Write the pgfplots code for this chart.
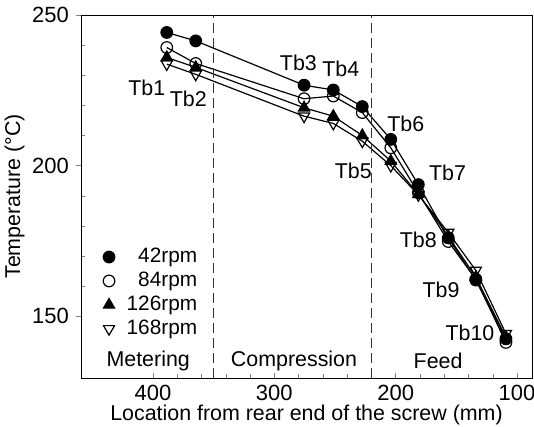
\documentclass[border=0pt]{standalone}
\usepackage{fontspec}
\setmainfont{Liberation Sans}
\usepackage{pgfplots}
\pgfplotsset{compat=1.18}
\begin{document}
\begin{tikzpicture}
\begin{axis}[
  name=ax,
  scale only axis, width=225.5pt, height=181.5pt,
  x dir=reverse, xmin=87.6, xmax=459.4, ymin=129.5, ymax=250,
  xtick={100,200,300,400}, ytick={150,200,250},
  minor x tick num=4, minor y tick num=4,
  xtick pos=bottom, ytick pos=left,
  xtick align=inside, ytick align=outside,
  minor y tick style={xshift=1.8pt},
  major tick length=2.5pt, minor tick length=1.8pt,
  /pgf/number format/assume math mode=true,
  ticklabel style={font=\fontsize{11}{13}\selectfont},
  label style={font=\fontsize{10.7}{12.5}\selectfont},
  xlabel={Location from rear end of the screw (mm)},
  ylabel={Temperature (°C)},
  xlabel style={yshift=4.5pt},
  ylabel style={yshift=-3pt},
  legend style={at={(0.044,0.375)}, anchor=north west, draw=none, fill=none,
    font=\fontsize{10.4}{12}\selectfont, row sep=-0.8pt, inner sep=1pt},
  legend cell align=right,
  legend image code/.code={\draw[#1] plot[only marks] coordinates {(0.12cm,0cm)};
    \path (0.12cm+6.5pt,0cm);},
  every axis plot/.append style={black, line width=0.6pt},
  clip=false,
]
\addplot[mark=*, mark size=2.9pt] coordinates {
  (388.7,244.2) (364.8,241.4) (275.5,226.7) (251.4,225.1) (227.5,219.6)
  (204.0,208.7) (181.3,193.7) (156.6,176.0) (133.9,162.0) (109.1,142.5)};
\addplot[mark=o, mark size=2.9pt, mark options={fill=white}] coordinates {
  (388.7,239.2) (364.8,233.9) (275.5,222.2) (251.4,223.1) (227.5,217.6)
  (204.0,205.9) (181.3,191.0) (156.6,174.8) (133.9,162.3) (109.1,141.3)};
\addplot[mark=triangle*, mark size=3.2pt] coordinates {
  (388.7,235.9) (364.8,232.6) (275.5,219.2) (251.4,216.4) (227.5,210.0)
  (204.0,201.5) (181.3,190.5) (156.6,176.5) (133.9,163.0) (109.1,143.0)};
\addplot[mark=triangle, mark size=3.2pt, mark options={rotate=180, fill=white}] coordinates {
  (388.7,233.7) (364.8,230.3) (275.5,216.4) (251.4,214.0) (227.5,208.1)
  (204.0,200.0) (181.3,190.3) (156.6,177.8) (133.9,165.2) (109.1,144.2)};
\legend{42rpm, 84rpm, 126rpm, 168rpm}
% zone boundaries
\addplot[forget plot, line width=0.5pt, dash pattern=on 5pt off 2.5pt, black!80] coordinates {(350.5,129.5) (350.5,250)};
\addplot[forget plot, line width=0.5pt, dash pattern=on 5pt off 2.5pt, black!80] coordinates {(220,129.5) (220,250)};
\begin{scope}[font=\fontsize{10.7}{12.5}\selectfont]
\node at (axis cs:405.2,225.7) {Tb1};
\node at (axis cs:370.9,222.3) {Tb2};
\node at (axis cs:280.2,234.2) {Tb3};
\node at (axis cs:245.2,232) {Tb4};
\node at (axis cs:234.9,198.1) {Tb5};
\node at (axis cs:191.6,213.7) {Tb6};
\node at (axis cs:157.2,197.6) {Tb7};
\node at (axis cs:181.3,175.3) {Tb8};
\node at (axis cs:162.6,158.7) {Tb9};
\node at (axis cs:138.7,144.5) {Tb10};
\node at (axis cs:404,135.3) {Metering};
\node at (axis cs:283.8,135.3) {Compression};
\node at (axis cs:165,135.3) {Feed};
\end{scope}
\end{axis}
\pgfresetboundingbox
\useasboundingbox ([shift={(-40.5pt,-24.5pt)}]ax.south west) rectangle ([shift={(1pt,7.5pt)}]ax.north east);
\end{tikzpicture}
\end{document}
